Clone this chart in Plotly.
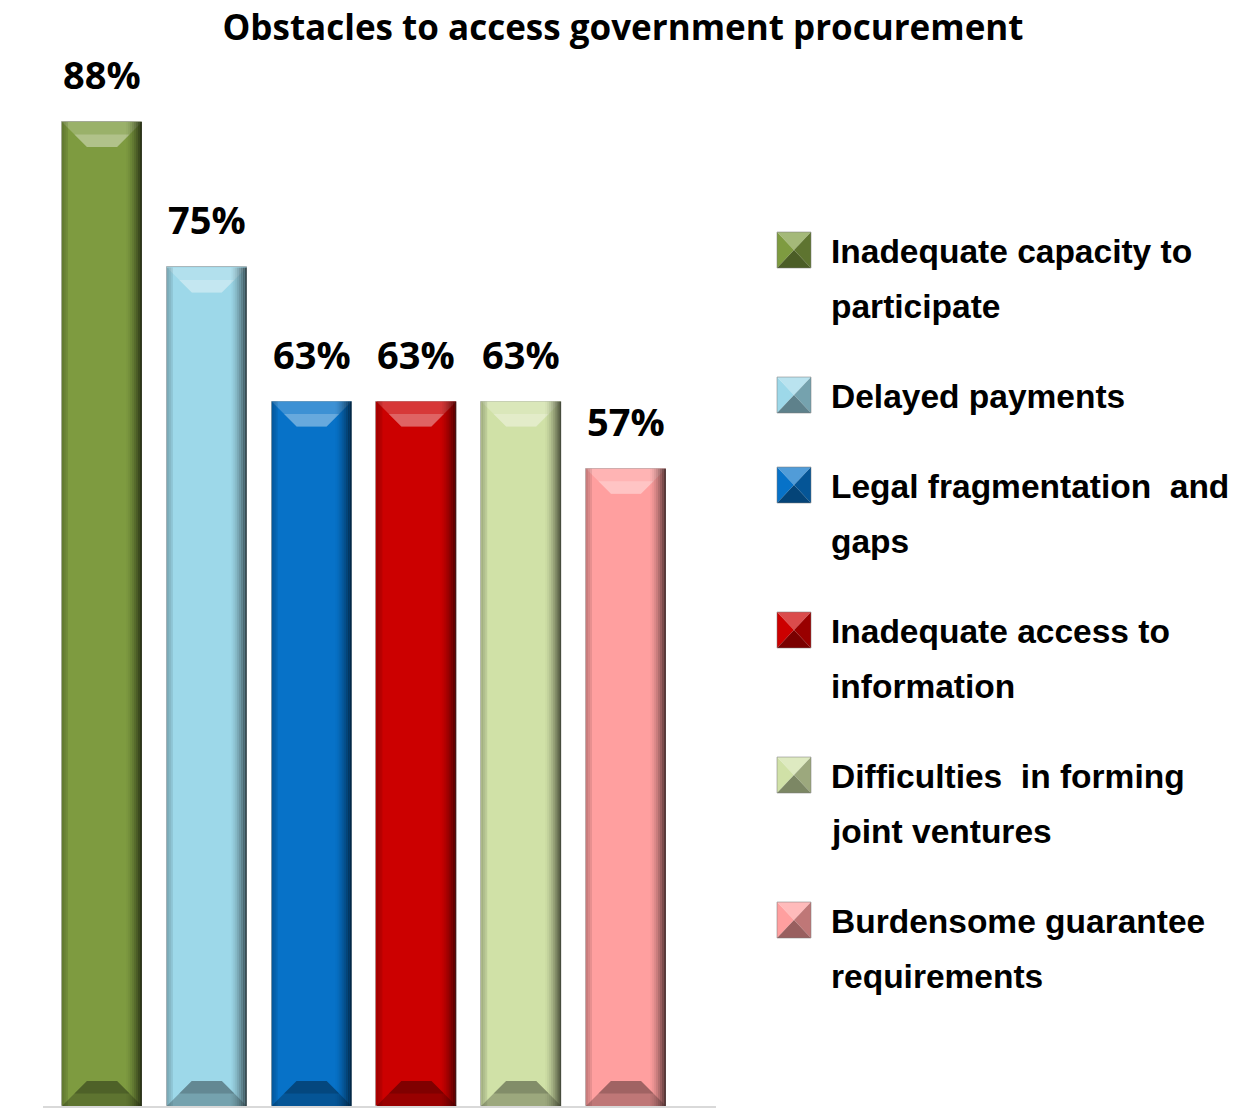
import plotly.graph_objects as go

# ---- data -------------------------------------------------------------
categories = [
    "Inadequate capacity to participate",
    "Delayed payments",
    "Legal fragmentation and gaps",
    "Inadequate access to information",
    "Difficulties in forming joint ventures",
    "Burdensome guarantee requirements",
]
legend_lines = [
    ["Inadequate capacity to", "participate"],
    ["Delayed payments"],
    ["Legal fragmentation\u00a0\u00a0and", "gaps"],
    ["Inadequate access to", "information"],
    ["Difficulties\u00a0\u00a0in forming", "joint ventures"],
    ["Burdensome guarantee", "requirements"],
]
values = [88, 75, 63, 63, 63, 57]
value_labels = ["88%", "75%", "63%", "63%", "63%", "57%"]
colors = ["#7E9B40", "#9DD8E9", "#0772C8", "#CC0000", "#D0E1A7", "#FF9F9F"]
title_text = "Obstacles to access government procurement"

# ---- geometry ---------------------------------------------------------
W, H = 1234, 1108
PL, PR, PT, PB = 43, 716, 60, 1106          # plot area in pixels
X_RANGE = [-0.563, 5.859]
Y_MAX = 93.55
BAR_W = 0.763
XPX = (PR - PL) / (X_RANGE[1] - X_RANGE[0])  # pixels per x unit
YPX = (PB - PT) / Y_MAX                      # pixels per y unit


def hex_rgb(h):
    h = h.lstrip("#")
    return tuple(int(h[i:i + 2], 16) for i in (0, 2, 4))


def mix(h, target, f):
    r, g, b = hex_rgb(h)
    tr, tg, tb = target
    return "rgb({},{},{})".format(int(r + (tr - r) * f), int(g + (tg - g) * f), int(b + (tb - b) * f))


def lighter(h, f):
    return mix(h, (255, 255, 255), f)


def darker(h, f):
    return mix(h, (0, 0, 0), f)


def px_x(px):
    return (px - PL) / (PR - PL)


def px_y(py):
    return (PB - py) / (PB - PT)


xs = list(range(len(categories)))

fig = go.Figure()
fig.add_trace(go.Bar(
    x=xs, y=values, width=BAR_W,
    marker=dict(color=colors, line=dict(color="rgba(140,140,140,0.55)", width=1)),
    showlegend=False, hoverinfo="skip",
))

shapes = []
annotations = []

# bevelled look for each bar: lit top facet, shaded bottom facet, dark right edge
bev_y = 25 / YPX
bev_x = 25 / XPX
for i, (v, c) in enumerate(zip(values, colors)):
    x0, x1 = i - BAR_W / 2, i + BAR_W / 2
    top_path = "M {a},{t} L {b},{t} L {c},{u} L {d},{u} Z".format(
        a=x0, b=x1, c=x1 - bev_x, d=x0 + bev_x, t=v, u=v - bev_y)
    shapes.append(dict(type="path", path=top_path, xref="x", yref="y",
                       fillcolor=lighter(c, 0.22), line=dict(width=0), layer="above"))
    hl_path = "M {a},{t} L {b},{t} L {c},{u} L {d},{u} Z".format(
        a=x0 + bev_x * 0.5, b=x1 - bev_x * 0.5, c=x1 - bev_x, d=x0 + bev_x,
        t=v - bev_y * 0.5, u=v - bev_y)
    shapes.append(dict(type="path", path=hl_path, xref="x", yref="y",
                       fillcolor=lighter(c, 0.45), opacity=0.75, line=dict(width=0), layer="above"))
    bot_path = "M {a},0 L {b},0 L {c},{u} L {d},{u} Z".format(
        a=x0, b=x1, c=x1 - bev_x, d=x0 + bev_x, u=bev_y)
    shapes.append(dict(type="path", path=bot_path, xref="x", yref="y",
                       fillcolor=darker(c, 0.25), line=dict(width=0), layer="above"))
    bot_in = "M {a},{t} L {b},{t} L {c},{u} L {d},{u} Z".format(
        a=x0 + bev_x * 0.5, b=x1 - bev_x * 0.5, c=x1 - bev_x, d=x0 + bev_x,
        t=bev_y * 0.5, u=bev_y)
    shapes.append(dict(type="path", path=bot_in, xref="x", yref="y",
                       fillcolor=darker(c, 0.45), opacity=0.6, line=dict(width=0), layer="above"))
    # right edge shading, graded
    n = 8
    for k in range(n):
        sx0 = x1 - (n - k) * 2 / XPX
        sx1 = sx0 + 2 / XPX
        shapes.append(dict(type="rect", xref="x", yref="y", x0=sx0, x1=sx1, y0=0, y1=v,
                           fillcolor=darker(c, 0.75), opacity=((k + 1) / n) ** 1.6 * 0.85,
                           line=dict(width=0), layer="above"))
    # left edge shading
    for k in range(3):
        sx0 = x0 + k * 2 / XPX
        shapes.append(dict(type="rect", xref="x", yref="y", x0=sx0, x1=sx0 + 2 / XPX, y0=0, y1=v,
                           fillcolor=darker(c, 0.6), opacity=0.35 - k * 0.1,
                           line=dict(width=0), layer="above"))
    annotations.append(dict(x=i, y=v, xref="x", yref="y", text="<b>%s</b>" % value_labels[i],
                            showarrow=False, yanchor="bottom", yshift=20,
                            font=dict(family="Open Sans", size=38, color="#000000")))

# legend: pyramid swatches with wrapped labels
LINE_H = 55
ITEM_GAP = 90
MK_L, MK_W, MK_H = 777, 34, 36
TXT_L = 829
baseline = 267
for i, (lines, c) in enumerate(zip(legend_lines, colors)):
    cy = baseline - 17
    mx0, mx1 = MK_L, MK_L + MK_W
    my0, my1 = cy - MK_H / 2, cy + MK_H / 2
    ax0, ax1 = px_x(mx0), px_x(mx1)
    ay_top, ay_bot = px_y(my0), px_y(my1)
    acx, acy = px_x((mx0 + mx1) / 2), px_y(cy)
    facets = [
        ((ax0, ay_top), (ax1, ay_top), lighter(c, 0.3)),
        ((ax0, ay_top), (ax0, ay_bot), c),
        ((ax1, ay_top), (ax1, ay_bot), darker(c, 0.25)),
        ((ax0, ay_bot), (ax1, ay_bot), darker(c, 0.4)),
    ]
    for (p, q, fc) in facets:
        shapes.append(dict(type="path", xref="paper", yref="paper",
                           path="M {},{} L {},{} L {},{} Z".format(p[0], p[1], q[0], q[1], acx, acy),
                           fillcolor=fc, line=dict(width=0), layer="above"))
    shapes.append(dict(type="rect", xref="paper", yref="paper", x0=ax0, x1=ax1, y0=ay_bot, y1=ay_top,
                       line=dict(color="rgba(120,120,120,0.5)", width=1), fillcolor="rgba(0,0,0,0)"))
    for j, ln in enumerate(lines):
        b = baseline + j * LINE_H
        annotations.append(dict(x=px_x(TXT_L), y=px_y(b - 15.5), xref="paper", yref="paper",
                                text="<b>%s</b>" % ln, showarrow=False, xanchor="left",
                                yanchor="middle",
                                font=dict(family="Liberation Sans", size=33.5, color="#000000")))
    baseline += (len(lines) - 1) * LINE_H + ITEM_GAP

fig.update_layout(
    width=W, height=H,
    margin=dict(l=PL, r=W - PR, t=PT, b=H - PB, pad=0),
    paper_bgcolor="white", plot_bgcolor="white",
    title=dict(text="<b>%s</b>" % title_text, x=623 / W, xanchor="center",
               y=1 - 28 / H, yanchor="middle", yref="container",
               font=dict(family="Open Sans", size=35, color="#000000")),
    xaxis=dict(range=X_RANGE, showticklabels=False, ticks="", showgrid=False, zeroline=False,
               showline=True, linecolor="#D9D9D9", linewidth=2, fixedrange=True),
    yaxis=dict(range=[0, Y_MAX], visible=False, showgrid=False, zeroline=False, fixedrange=True),
    shapes=shapes,
    annotations=annotations,
    bargap=0,
    showlegend=False,
)

fig.write_html("out.html")
